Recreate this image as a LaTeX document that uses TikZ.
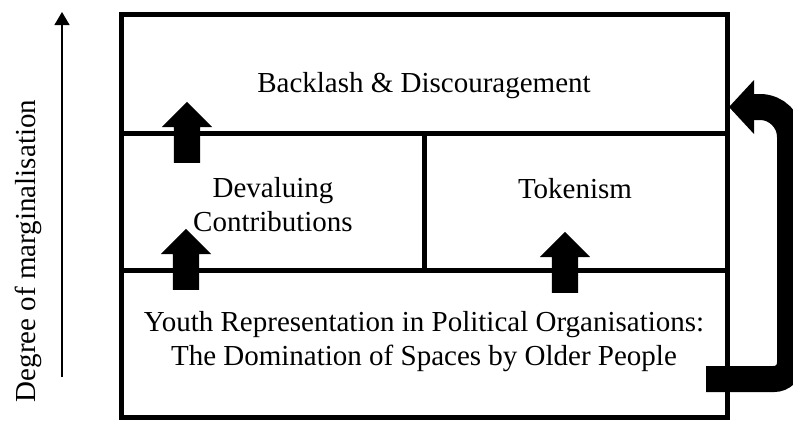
\documentclass[tikz,border=0pt]{standalone}
\usepackage{fontspec}
\setmainfont{Liberation Serif}
\usetikzlibrary{arrows.meta, shapes.arrows}

\begin{document}
\begin{tikzpicture}[x=1pt, y=-1pt,
  frame/.style={line width=5pt},
  txt/.style={font=\fontsize{29}{34}\selectfont, inner sep=0pt, align=center},
  blk/.style={single arrow, fill=black, draw=none, shape border rotate=90, inner sep=13pt, minimum height=61pt, single arrow head extend=12pt, anchor=tail}]
\useasboundingbox (0,0) rectangle (793,424);
\draw[frame] (121,14) rectangle (727,417);
\draw[frame] (121,133) -- (727,133);
\draw[frame] (121,270) -- (727,270);
\draw[frame] (424,133) -- (424,270);
\node[txt, anchor=base] (bk) at (424,92) {Backlash \& Discouragement};
\node[txt] (dv) at (273,205) {Devaluing\\Contributions};
\node[txt, anchor=base] (tk) at (575,198) {Tokenism};
\node[txt] (yt) at (424,342) {Youth Representation in Political Organisations:\\The Domination of Spaces by Older People};
\node[txt, rotate=90, anchor=base] (dg) at (35,251) {Degree of marginalisation};
\node[blk] (a1) at (187,163) {};
\node[blk] (a2) at (186,290) {};
\node[blk] (a3) at (565,293) {};
\coordinate (lo) at (62,377);
\coordinate (hi) at (62,12);
\draw[line width=1.2pt, -{Triangle[width=15pt,length=13pt]}] (lo) -- (hi);
\coordinate (tl) at (706,379);
\coordinate (hd) at (752,107);
\coordinate (tp) at (729,107);
\draw[line width=26pt] (tl) [rounded corners=16pt] -- (790,379) [rounded corners=30pt] -- (790,107) -- (hd);
\fill (754,80) -- (tp) -- (754,134) -- cycle;
\end{tikzpicture}
\end{document}
